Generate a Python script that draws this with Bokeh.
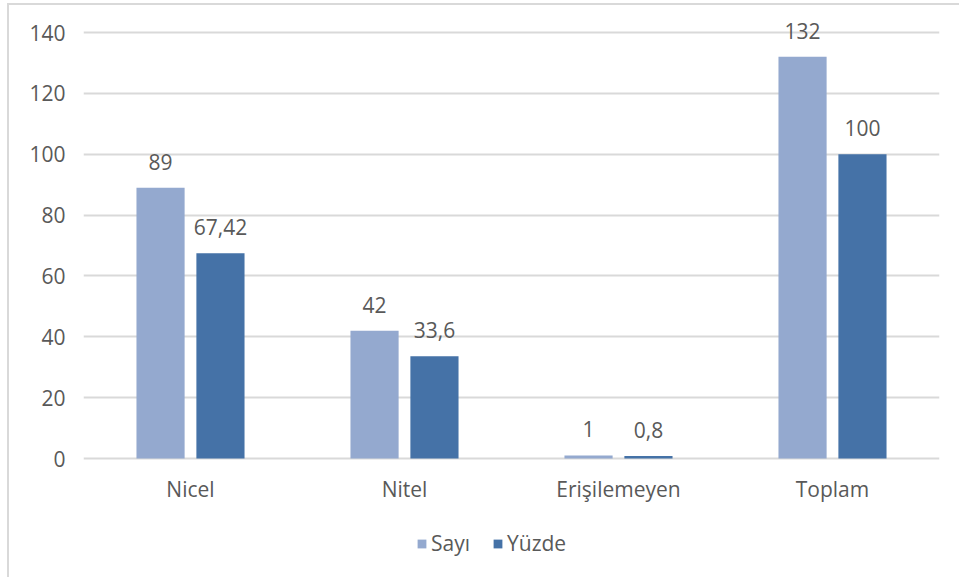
from bokeh.plotting import figure
from bokeh.models import ColumnDataSource, FactorRange, Range1d, Legend, LegendItem, CategoricalAxis
from bokeh.transform import dodge
from bokeh.core.properties import value
from bokeh.embed import file_html
from bokeh.resources import INLINE

categories = ["Nicel", "Nitel", "Erişilemeyen", "Toplam"]
sayi = [89, 42, 1, 132]
yuzde = [67.42, 33.6, 0.8, 100]
series_names = ["Sayı", "Yüzde"]
y_ticks = [0, 20, 40, 60, 80, 100, 120, 140]
y_max = 140

FONT = "Open Sans"
TEXT_COLOR = "#595959"
GRID_COLOR = "#d9d9d9"
COLOR_SAYI = "#94a9cf"
COLOR_YUZDE = "#4572a7"

# canvas geometry (px); the frame spans the full height so that value
# labels above the top gridline and the legend under the axis stay visible
W, H = 952, 574
LEFT, RIGHT = 74, 22
TOP_PAD = 27              # pixels above the y_max gridline
VALUE_AREA = 426          # pixels between 0 and y_max
per_px = y_max / VALUE_AREA
y_top = y_max + TOP_PAD * per_px
y_min = y_top - H * per_px


def fmt(v):
    # Turkish decimal comma
    return str(v).replace(".", ",")


source = ColumnDataSource(data=dict(
    cat=categories,
    sayi=sayi,
    yuzde=yuzde,
    sayi_lbl=[fmt(v) for v in sayi],
    yuzde_lbl=[fmt(v) for v in yuzde],
))

p = figure(
    x_range=FactorRange(*categories),
    y_range=Range1d(y_min, y_top),
    width=W, height=H,
    output_backend="svg",
    toolbar_location=None,
    min_border_left=LEFT, min_border_right=RIGHT,
    min_border_top=0, min_border_bottom=0,
    x_axis_location=None,
)
p.styles = {
    "margin-left": "7px",
    "margin-top": "3px",
    "border-left": "2px solid #d9d9d9",
    "border-top": "2px solid #d9d9d9",
}

p.outline_line_color = None
p.background_fill_color = "white"
p.border_fill_color = "white"

bar_w = 0.225
off = 0.14
r1 = p.vbar(x=dodge("cat", -off, range=p.x_range), top="sayi", width=bar_w,
            source=source, fill_color=COLOR_SAYI, line_color=None)
r2 = p.vbar(x=dodge("cat", off, range=p.x_range), top="yuzde", width=bar_w,
            source=source, fill_color=COLOR_YUZDE, line_color=None)

# value labels above the bars
for col, lbl, o in (("sayi", "sayi_lbl", -off), ("yuzde", "yuzde_lbl", off)):
    p.text(x=dodge("cat", o, range=p.x_range), y=col, text=lbl, source=source,
           text_align="center", text_baseline="alphabetic", y_offset=-26,
           text_font=value(FONT), text_font_size="21px", text_color=TEXT_COLOR)

# y axis
p.yaxis.ticker = y_ticks
p.yaxis.axis_line_color = None
p.yaxis.major_tick_line_color = None
p.yaxis.minor_tick_line_color = None
p.yaxis.major_label_standoff = 12
p.yaxis.major_label_text_font = FONT
p.yaxis.major_label_text_font_size = "21px"
p.yaxis.major_label_text_color = TEXT_COLOR

# category axis sitting on the zero line
xaxis = CategoricalAxis(fixed_location=0)
xaxis.axis_line_color = None
xaxis.major_tick_line_color = None
xaxis.minor_tick_line_color = None
xaxis.major_label_standoff = 10
xaxis.major_label_text_font = FONT
xaxis.major_label_text_font_size = "21px"
xaxis.major_label_text_color = TEXT_COLOR
p.add_layout(xaxis, "below")

p.xgrid.grid_line_color = None
p.ygrid.grid_line_color = GRID_COLOR
p.ygrid.grid_line_width = 2

legend = Legend(
    items=[LegendItem(label=series_names[0], renderers=[r1]),
           LegendItem(label=series_names[1], renderers=[r2])],
    orientation="horizontal",
    location=(333, 22),
    glyph_width=11, glyph_height=11,
    label_text_font=FONT, label_text_font_size="21px", label_text_color=TEXT_COLOR,
    label_standoff=4, spacing=22, padding=0, margin=0,
    border_line_color=None, background_fill_alpha=0,
)
p.add_layout(legend, "center")

open("out.html", "w").write(file_html(p, INLINE))
